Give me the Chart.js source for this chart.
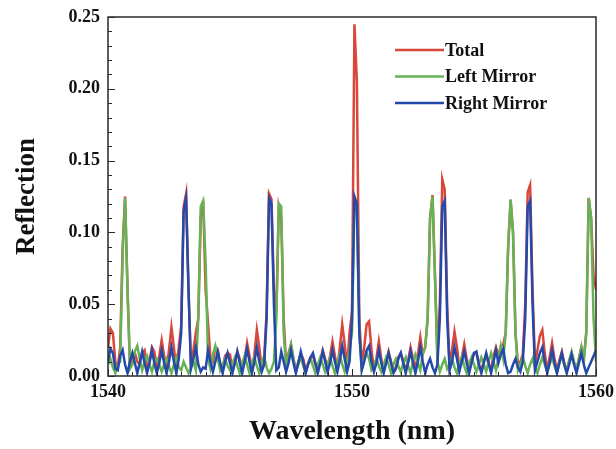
<!DOCTYPE html>
<html>
<head>
<meta charset="utf-8">
<script src="https://cdn.jsdelivr.net/npm/chart.js@4.4.1/dist/chart.umd.min.js"></script>
<style>
  html, body { margin: 0; padding: 0; background: #fff; }
  #wrap { width: 616px; height: 449px; }
</style>
</head>
<body>
<div id="wrap"><canvas id="chart" width="616" height="449"></canvas></div>
<script>
// wavelength grid (nm)
const wavelength = [
  1540.0, 1540.1, 1540.2, 1540.3, 1540.4, 1540.5, 1540.6, 1540.7, 1540.8, 1540.9,
  1541.0, 1541.1, 1541.2, 1541.3, 1541.4, 1541.5, 1541.6, 1541.7, 1541.8, 1541.9,
  1542.0, 1542.1, 1542.2, 1542.3, 1542.4, 1542.5, 1542.6, 1542.7, 1542.8, 1542.9,
  1543.0, 1543.1, 1543.2, 1543.3, 1543.4, 1543.5, 1543.6, 1543.7, 1543.8, 1543.9,
  1544.0, 1544.1, 1544.2, 1544.3, 1544.4, 1544.5, 1544.6, 1544.7, 1544.8, 1544.9,
  1545.0, 1545.1, 1545.2, 1545.3, 1545.4, 1545.5, 1545.6, 1545.7, 1545.8, 1545.9,
  1546.0, 1546.1, 1546.2, 1546.3, 1546.4, 1546.5, 1546.6, 1546.7, 1546.8, 1546.9,
  1547.0, 1547.1, 1547.2, 1547.3, 1547.4, 1547.5, 1547.6, 1547.7, 1547.8, 1547.9,
  1548.0, 1548.1, 1548.2, 1548.3, 1548.4, 1548.5, 1548.6, 1548.7, 1548.8, 1548.9,
  1549.0, 1549.1, 1549.2, 1549.3, 1549.4, 1549.5, 1549.6, 1549.7, 1549.8, 1549.9,
  1550.0, 1550.1, 1550.2, 1550.3, 1550.4, 1550.5, 1550.6, 1550.7, 1550.8, 1550.9,
  1551.0, 1551.1, 1551.2, 1551.3, 1551.4, 1551.5, 1551.6, 1551.7, 1551.8, 1551.9,
  1552.0, 1552.1, 1552.2, 1552.3, 1552.4, 1552.5, 1552.6, 1552.7, 1552.8, 1552.9,
  1553.0, 1553.1, 1553.2, 1553.3, 1553.4, 1553.5, 1553.6, 1553.7, 1553.8, 1553.9,
  1554.0, 1554.1, 1554.2, 1554.3, 1554.4, 1554.5, 1554.6, 1554.7, 1554.8, 1554.9,
  1555.0, 1555.1, 1555.2, 1555.3, 1555.4, 1555.5, 1555.6, 1555.7, 1555.8, 1555.9,
  1556.0, 1556.1, 1556.2, 1556.3, 1556.4, 1556.5, 1556.6, 1556.7, 1556.8, 1556.9,
  1557.0, 1557.1, 1557.2, 1557.3, 1557.4, 1557.5, 1557.6, 1557.7, 1557.8, 1557.9,
  1558.0, 1558.1, 1558.2, 1558.3, 1558.4, 1558.5, 1558.6, 1558.7, 1558.8, 1558.9,
  1559.0, 1559.1, 1559.2, 1559.3, 1559.4, 1559.5, 1559.6, 1559.7, 1559.8, 1559.9,
  1560.0
];

// Total reflection
const total = [
  0.020, 0.033, 0.030, 0.010, 0.006, 0.020, 0.090, 0.125, 0.060, 0.008,
  0.014, 0.016, 0.010, 0.008, 0.016, 0.018, 0.006, 0.010, 0.020, 0.017,
  0.005, 0.014, 0.025, 0.014, 0.004, 0.018, 0.034, 0.020, 0.004, 0.020,
  0.035, 0.118, 0.127, 0.060, 0.008, 0.018, 0.030, 0.040, 0.110, 0.122,
  0.060, 0.037, 0.012, 0.010, 0.020, 0.018, 0.006, 0.006, 0.014, 0.016,
  0.015, 0.004, 0.010, 0.017, 0.012, 0.004, 0.012, 0.023, 0.014, 0.004,
  0.015, 0.032, 0.020, 0.005, 0.012, 0.045, 0.127, 0.123, 0.060, 0.045,
  0.118, 0.110, 0.040, 0.008, 0.016, 0.022, 0.012, 0.004, 0.010, 0.015,
  0.012, 0.004, 0.009, 0.013, 0.014, 0.008, 0.004, 0.011, 0.018, 0.012,
  0.006, 0.014, 0.024, 0.014, 0.005, 0.020, 0.036, 0.022, 0.006, 0.030,
  0.045, 0.245, 0.205, 0.040, 0.008, 0.020, 0.036, 0.038, 0.018, 0.005,
  0.012, 0.024, 0.012, 0.004, 0.010, 0.017, 0.010, 0.004, 0.006, 0.013,
  0.016, 0.010, 0.004, 0.011, 0.020, 0.012, 0.005, 0.015, 0.027, 0.015,
  0.020, 0.040, 0.110, 0.126, 0.070, 0.015, 0.050, 0.137, 0.130, 0.050,
  0.008, 0.018, 0.031, 0.020, 0.006, 0.013, 0.022, 0.012, 0.004, 0.010,
  0.016, 0.016, 0.008, 0.004, 0.010, 0.015, 0.008, 0.005, 0.014, 0.020,
  0.014, 0.021, 0.022, 0.030, 0.090, 0.122, 0.100, 0.030, 0.008, 0.010,
  0.015, 0.050, 0.128, 0.133, 0.060, 0.008, 0.018, 0.028, 0.032, 0.016,
  0.004, 0.013, 0.023, 0.012, 0.004, 0.011, 0.017, 0.009, 0.004, 0.010,
  0.016, 0.009, 0.004, 0.012, 0.020, 0.012, 0.030, 0.124, 0.110, 0.070,
  0.060
];

// Left mirror
const leftMirror = [
  0.008, 0.012, 0.006, 0.002, 0.008, 0.010, 0.085, 0.124, 0.060, 0.005,
  0.008, 0.017, 0.021, 0.012, 0.004, 0.010, 0.014, 0.008, 0.003, 0.010,
  0.012, 0.008, 0.003, 0.008, 0.012, 0.007, 0.002, 0.008, 0.013, 0.006,
  0.004, 0.010, 0.006, 0.002, 0.006, 0.010, 0.004, 0.040, 0.118, 0.122,
  0.080, 0.012, 0.005, 0.015, 0.021, 0.012, 0.004, 0.008, 0.012, 0.007,
  0.004, 0.009, 0.013, 0.007, 0.002, 0.009, 0.014, 0.008, 0.002, 0.010,
  0.013, 0.007, 0.002, 0.009, 0.014, 0.006, 0.002, 0.005, 0.010, 0.040,
  0.120, 0.118, 0.030, 0.006, 0.015, 0.022, 0.012, 0.004, 0.008, 0.013,
  0.007, 0.002, 0.008, 0.012, 0.007, 0.002, 0.008, 0.013, 0.008, 0.003,
  0.008, 0.013, 0.007, 0.002, 0.009, 0.015, 0.008, 0.003, 0.010, 0.018,
  0.030, 0.120, 0.118, 0.030, 0.005, 0.012, 0.016, 0.012, 0.004, 0.006,
  0.012, 0.007, 0.003, 0.008, 0.013, 0.008, 0.002, 0.008, 0.012, 0.007,
  0.003, 0.009, 0.013, 0.007, 0.002, 0.010, 0.015, 0.009, 0.004, 0.016,
  0.020, 0.040, 0.110, 0.125, 0.070, 0.010, 0.003, 0.008, 0.012, 0.005,
  0.008, 0.012, 0.006, 0.002, 0.009, 0.013, 0.007, 0.002, 0.009, 0.013,
  0.008, 0.003, 0.008, 0.013, 0.008, 0.003, 0.010, 0.016, 0.010, 0.004,
  0.012, 0.021, 0.012, 0.030, 0.090, 0.123, 0.100, 0.030, 0.004, 0.008,
  0.013, 0.007, 0.002, 0.008, 0.012, 0.006, 0.002, 0.008, 0.013, 0.008,
  0.003, 0.008, 0.013, 0.007, 0.002, 0.009, 0.014, 0.008, 0.003, 0.011,
  0.017, 0.010, 0.005, 0.012, 0.020, 0.010, 0.030, 0.124, 0.110, 0.040,
  0.010
];

// Right mirror
const rightMirror = [
  0.010, 0.019, 0.016, 0.005, 0.004, 0.014, 0.018, 0.008, 0.002, 0.010,
  0.016, 0.009, 0.002, 0.009, 0.017, 0.009, 0.002, 0.009, 0.018, 0.009,
  0.002, 0.009, 0.018, 0.009, 0.002, 0.010, 0.020, 0.010, 0.002, 0.012,
  0.030, 0.115, 0.124, 0.060, 0.005, 0.012, 0.020, 0.008, 0.003, 0.006,
  0.005, 0.018, 0.010, 0.003, 0.010, 0.017, 0.009, 0.002, 0.010, 0.016,
  0.009, 0.002, 0.009, 0.017, 0.009, 0.002, 0.010, 0.019, 0.010, 0.002,
  0.010, 0.020, 0.010, 0.003, 0.008, 0.040, 0.124, 0.120, 0.050, 0.004,
  0.006, 0.017, 0.010, 0.003, 0.009, 0.018, 0.009, 0.002, 0.009, 0.017,
  0.010, 0.002, 0.008, 0.013, 0.016, 0.009, 0.002, 0.009, 0.017, 0.010,
  0.003, 0.009, 0.018, 0.010, 0.003, 0.011, 0.021, 0.012, 0.003, 0.010,
  0.040, 0.125, 0.120, 0.030, 0.004, 0.010, 0.018, 0.021, 0.010, 0.003,
  0.009, 0.018, 0.009, 0.002, 0.009, 0.016, 0.009, 0.002, 0.005, 0.012,
  0.016, 0.009, 0.002, 0.009, 0.017, 0.009, 0.002, 0.010, 0.020, 0.010,
  0.002, 0.008, 0.012, 0.006, 0.002, 0.008, 0.040, 0.118, 0.122, 0.040,
  0.004, 0.010, 0.020, 0.012, 0.003, 0.010, 0.017, 0.009, 0.002, 0.009,
  0.016, 0.017, 0.008, 0.002, 0.009, 0.016, 0.009, 0.002, 0.010, 0.018,
  0.009, 0.015, 0.019, 0.008, 0.002, 0.003, 0.008, 0.012, 0.006, 0.003,
  0.010, 0.040, 0.118, 0.122, 0.050, 0.004, 0.010, 0.016, 0.020, 0.010,
  0.002, 0.009, 0.018, 0.009, 0.002, 0.009, 0.016, 0.008, 0.002, 0.008,
  0.015, 0.008, 0.002, 0.009, 0.016, 0.008, 0.002, 0.006, 0.010, 0.014,
  0.018
];

const seriesNames = ['Total', 'Left Mirror', 'Right Mirror'];
const seriesColors = ['#d9463a', '#66b255', '#2449ab'];
const yTicks = [0, 0.05, 0.10, 0.15, 0.20, 0.25];
const xTicks = [1540, 1550, 1560];

const serif = '"Liberation Serif", "DejaVu Serif", serif';
const frameColor = '#2a2a2a';

function toPoints(values) {
  return values.map((v, i) => ({ x: wavelength[i], y: v }));
}

// frame on top/right + inward tick marks
const framePlugin = {
  id: 'frame',
  afterDatasetsDraw(chart) {
    const { ctx, chartArea: a, scales } = chart;
    const ys = scales.y, xs = scales.x;
    ctx.save();
    ctx.strokeStyle = frameColor;
    ctx.lineWidth = 1.5;
    ctx.strokeRect(a.left, a.top, a.right - a.left, a.bottom - a.top);
    ctx.lineWidth = 1;
    // y minor ticks every 0.01, major every 0.05
    for (let k = 0; k <= 25; k++) {
      const py = Math.round(ys.getPixelForValue(k / 100)) + 0.5;
      const len = k % 5 === 0 ? 7 : 4;
      ctx.beginPath();
      ctx.moveTo(a.left, py);
      ctx.lineTo(a.left + len, py);
      ctx.stroke();
    }
    // x ticks every 1 nm
    for (let w = 1540; w <= 1560; w++) {
      const px = Math.round(xs.getPixelForValue(w)) + 0.5;
      const len = w % 10 === 0 ? 7 : 4;
      ctx.beginPath();
      ctx.moveTo(px, a.bottom);
      ctx.lineTo(px, a.bottom - len);
      ctx.stroke();
    }
    ctx.restore();
  }
};

// legend drawn inside the plot, top right
const legendPlugin = {
  id: 'insideLegend',
  afterDraw(chart) {
    const { ctx } = chart;
    ctx.save();
    ctx.font = 'bold 18px ' + serif;
    ctx.textBaseline = 'middle';
    ctx.fillStyle = '#111';
    seriesNames.forEach((name, i) => {
      const y = 50 + i * 26.5;
      ctx.strokeStyle = seriesColors[i];
      ctx.lineWidth = 2.5;
      ctx.beginPath();
      ctx.moveTo(395, y);
      ctx.lineTo(444, y);
      ctx.stroke();
      ctx.fillText(name, 445, y + 1);
    });
    ctx.restore();
  }
};

const ctx = document.getElementById('chart').getContext('2d');
new Chart(ctx, {
  type: 'line',
  data: {
    datasets: [total, leftMirror, rightMirror].map((vals, i) => ({
      label: seriesNames[i],
      data: toPoints(vals),
      borderColor: seriesColors[i],
      backgroundColor: seriesColors[i],
      borderWidth: 2.5,
      pointRadius: 0,
      tension: 0,
      order: 3 - i
    }))
  },
  options: {
    responsive: false,
    animation: false,
    layout: { padding: { top: 17, right: 20, left: 0, bottom: 0 } },
    plugins: {
      legend: { display: false },
      tooltip: { enabled: false }
    },
    scales: {
      x: {
        type: 'linear',
        min: 1540,
        max: 1560,
        afterBuildTicks: (scale) => { scale.ticks = xTicks.map(v => ({ value: v })); },
        afterFit: (scale) => {
          scale.height = 73;
          scale.paddingLeft = 0;
          scale.paddingRight = 0;
        },
        grid: { display: false, drawTicks: false },
        border: { display: false },
        ticks: {
          padding: 6,
          color: '#111',
          maxRotation: 0,
          font: { family: serif, size: 18, weight: 'bold' },
          callback: (v) => String(v)
        },
        title: {
          display: true,
          text: 'Wavelength (nm)',
          color: '#111',
          padding: { top: 0, bottom: 0 },
          font: { family: serif, size: 28, weight: 'bold' }
        }
      },
      y: {
        min: 0,
        max: 0.25,
        afterBuildTicks: (scale) => { scale.ticks = yTicks.map(v => ({ value: v })); },
        afterFit: (scale) => {
          scale.width = 108;
          scale.paddingTop = 0;
          scale.paddingBottom = 0;
        },
        grid: { display: false, drawTicks: false },
        border: { display: false },
        ticks: {
          padding: 8,
          color: '#111',
          font: { family: serif, size: 18, weight: 'bold' },
          callback: (v) => v.toFixed(2)
        },
        title: {
          display: true,
          text: 'Reflection',
          color: '#111',
          padding: { top: 11, bottom: 0 },
          font: { family: serif, size: 27, weight: 'bold' }
        }
      }
    }
  },
  plugins: [framePlugin, legendPlugin]
});
</script>
</body>
</html>
